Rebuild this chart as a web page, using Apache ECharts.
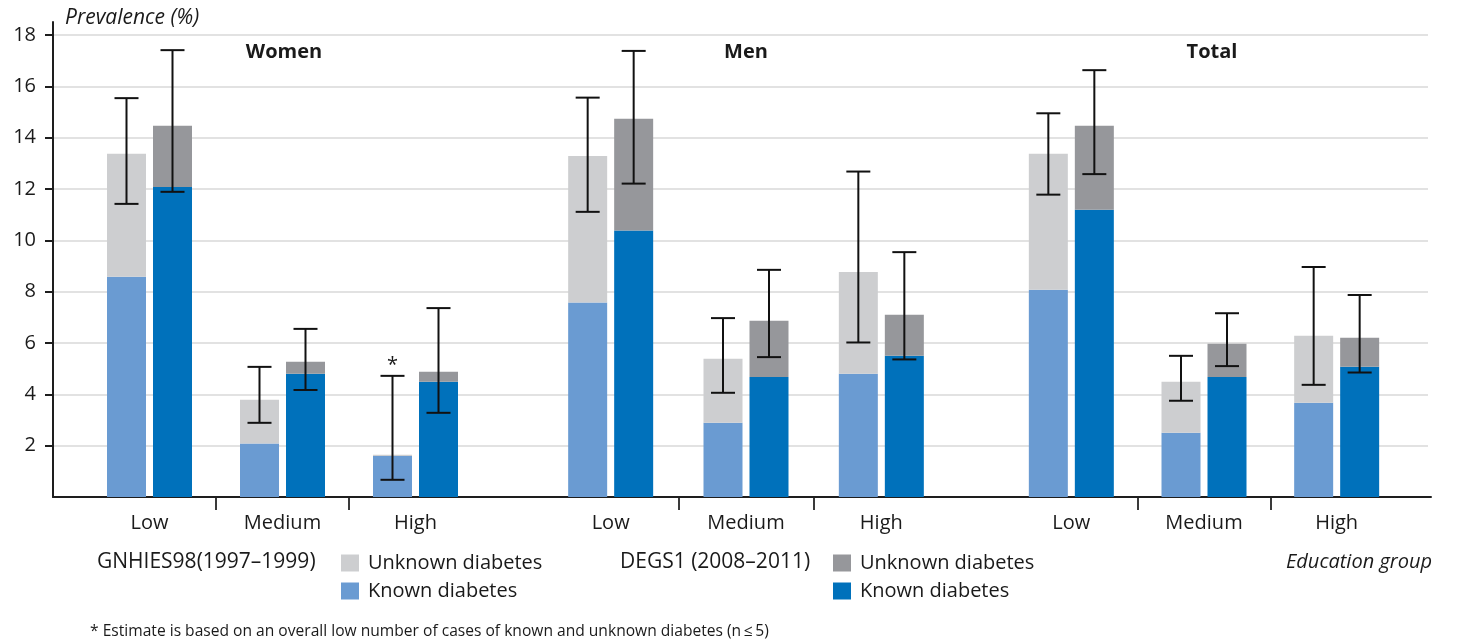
<!DOCTYPE html>
<html>
<head>
<meta charset="utf-8">
<script src="https://cdn.jsdelivr.net/npm/echarts@6/dist/echarts.min.js"></script>
<style>
  html, body { margin: 0; padding: 0; background: #fff; }
  #chart { width: 1457px; height: 644px; }
</style>
</head>
<body>
<div id="chart"></div>
<script>
// Prevalence of known and unknown diabetes by education group, two survey waves.
const groups = ['Women', 'Men', 'Total'];
const educationLevels = ['Low', 'Medium', 'High'];
const yTicks = [2, 4, 6, 8, 10, 12, 14, 16, 18];

// GNHIES98 (1997–1999): rows = Women, Men, Total; columns = Low, Medium, High
const gnhiesKnown   = [[8.58, 2.08, 1.60], [7.58, 2.89, 4.80], [8.07, 2.50, 3.67]];
const gnhiesUnknown = [[4.79, 1.71, 0.05], [5.71, 2.50, 3.97], [5.30, 1.99, 2.61]];
const gnhiesLower   = [[11.42, 2.89, 0.67], [11.11, 4.06, 6.02], [11.78, 3.75, 4.37]];
const gnhiesUpper   = [[15.54, 5.07, 4.72], [15.56, 6.97, 12.68], [14.95, 5.50, 8.96]];
// estimates flagged with an asterisk (low case numbers)
const gnhiesFlag    = [[0, 0, 1], [0, 0, 0], [0, 0, 0]];

// DEGS1 (2008–2011)
const degsKnown   = [[12.08, 4.80, 4.49], [10.38, 4.68, 5.50], [11.19, 4.68, 5.07]];
const degsUnknown = [[2.38, 0.47, 0.39], [4.36, 2.19, 1.60], [3.27, 1.29, 1.13]];
const degsLower   = [[11.89, 4.17, 3.28], [12.21, 5.45, 5.36], [12.58, 5.10, 4.85]];
const degsUpper   = [[17.41, 6.55, 7.36], [17.38, 8.85, 9.54], [16.63, 7.16, 7.87]];

const C = {
  gnhiesUnknown: '#cdced0',
  gnhiesKnown: '#6a9bd2',
  degsUnknown: '#96979b',
  degsKnown: '#0071bb',
  text: '#1a1a1a',
  grid: '#d9d9d9',
  axis: '#1e1e1e'
};
const FONT = '"Open Sans", "Noto Sans", sans-serif';

// pixel layout of the three panels (plot band for each group)
const panels = [
  { left: 83, width: 399, titleX: 284 },
  { left: 543, width: 406, titleX: 746 },
  { left: 1005, width: 398, titleX: 1212 }
];
const PLOT_TOP = 35, PLOT_BOTTOM = 147;
const BAR_W = 39, BAR_GAP = 7, HALF_CAP = 12;

const grid = [
  { left: 53, right: 26, top: 22, bottom: PLOT_BOTTOM },            // axis lines
  { left: 53, right: 29, top: PLOT_TOP, bottom: 198.4 }              // y ticks, labels, grid lines (2..18)
];
const xAxis = [
  { gridIndex: 0, type: 'value', min: 0, max: 1,
    axisLine: { show: true, lineStyle: { color: C.axis, width: 2 } },
    axisTick: { show: false }, axisLabel: { show: false }, splitLine: { show: false } },
  { gridIndex: 1, type: 'value', min: 0, max: 1, show: false }
];
const yAxis = [
  { gridIndex: 0, type: 'value', min: 0, max: 18.5,
    axisLine: { show: true, lineStyle: { color: C.axis, width: 2 } },
    axisTick: { show: false }, axisLabel: { show: false }, splitLine: { show: false } },
  { gridIndex: 1, type: 'value', min: 2, max: 18, interval: 2,
    axisLine: { show: false },
    axisTick: { show: true, length: 8, lineStyle: { color: C.axis, width: 2 } },
    axisLabel: { show: true, margin: 17, fontSize: 20, color: C.text, fontFamily: FONT,
      formatter: v => (yTicks.indexOf(v) >= 0 ? String(v) : '') },
    splitLine: { show: true, lineStyle: { color: C.grid, width: 1.5 } } }
];
const series = [];

panels.forEach((p, g) => {
  const barGrid = grid.length;
  grid.push({ left: p.left, width: p.width, top: PLOT_TOP, bottom: PLOT_BOTTOM });
  xAxis.push({ gridIndex: barGrid, type: 'category', data: educationLevels, show: false });
  yAxis.push({ gridIndex: barGrid, type: 'value', min: 0, max: 18, show: false });
  const axisIdx = xAxis.length - 1;

  const sepGrid = grid.length;
  grid.push({ left: p.left, width: p.width, top: 497, height: 13 });
  xAxis.push({ gridIndex: sepGrid, type: 'category', data: educationLevels, position: 'bottom',
    axisLine: { show: false }, axisTick: { show: false },
    axisLabel: { show: true, margin: 3, fontSize: 20, color: C.text, fontFamily: FONT },
    splitLine: { show: true, showMinLine: false, showMaxLine: false,
      lineStyle: { color: '#3a3a3a', width: 2 } } });
  yAxis.push({ gridIndex: sepGrid, type: 'value', min: 0, max: 1, show: false });

  const barBase = {
    type: 'bar', xAxisIndex: axisIdx, yAxisIndex: axisIdx,
    barWidth: BAR_W, barGap: (BAR_GAP / BAR_W * 100) + '%',
    silent: true, z: 2
  };
  series.push(Object.assign({}, barBase, { name: 'GNHIES98 known', stack: 'gnhies' + g,
    itemStyle: { color: C.gnhiesKnown }, data: gnhiesKnown[g] }));
  series.push(Object.assign({}, barBase, { name: 'GNHIES98 unknown', stack: 'gnhies' + g,
    itemStyle: { color: C.gnhiesUnknown }, data: gnhiesUnknown[g] }));
  series.push(Object.assign({}, barBase, { name: 'DEGS1 known', stack: 'degs' + g,
    itemStyle: { color: C.degsKnown }, data: degsKnown[g] }));
  series.push(Object.assign({}, barBase, { name: 'DEGS1 unknown', stack: 'degs' + g,
    itemStyle: { color: C.degsUnknown }, data: degsUnknown[g] }));

  // confidence intervals of the total prevalence
  const ciData = [];
  educationLevels.forEach((lvl, i) => {
    ciData.push([i, gnhiesLower[g][i], gnhiesUpper[g][i], 0, gnhiesFlag[g][i]]);
    ciData.push([i, degsLower[g][i], degsUpper[g][i], 1, 0]);
  });
  series.push({
    type: 'custom', xAxisIndex: axisIdx, yAxisIndex: axisIdx, z: 5, silent: true,
    encode: { x: 0, y: [1, 2] },
    data: ciData,
    renderItem: (params, api) => {
      const i = api.value(0);
      const lo = api.coord([i, api.value(1)]);
      const hi = api.coord([i, api.value(2)]);
      const off = (BAR_W + BAR_GAP) / 2;
      const x = lo[0] + (api.value(3) === 0 ? -off : off);
      const st = { stroke: '#111', lineWidth: 2, fill: null };
      const children = [
        { type: 'line', shape: { x1: x, y1: lo[1], x2: x, y2: hi[1] }, style: st },
        { type: 'line', shape: { x1: x - HALF_CAP, y1: hi[1], x2: x + HALF_CAP, y2: hi[1] }, style: st },
        { type: 'line', shape: { x1: x - HALF_CAP, y1: lo[1], x2: x + HALF_CAP, y2: lo[1] }, style: st }
      ];
      if (api.value(4)) {
        children.push({ type: 'text', x: x, y: hi[1] - 11,
          style: { text: '*', fill: C.text, font: '20px ' + FONT,
            align: 'center', verticalAlign: 'middle', textAlign: 'center', textVerticalAlign: 'middle' } });
      }
      return { type: 'group', children };
    }
  });
});

function txt(text, x, y, opts) {
  return {
    type: 'text', x: x, y: y, silent: true,
    style: Object.assign({
      text: text, fill: C.text, font: '20px ' + FONT,
      align: 'left', verticalAlign: 'middle', textAlign: 'left', textVerticalAlign: 'middle'
    }, opts || {})
  };
}

const graphic = [
  txt('Prevalence (%)', 65, 18, { font: 'italic 21px ' + FONT }),
  txt('GNHIES98(1997\u20131999)', 97, 562, { font: '21px ' + FONT }),
  txt('DEGS1 (2008\u20132011)', 620, 562, { font: '21px ' + FONT }),
  txt('Education group', 1432, 562, { font: 'italic 20px ' + FONT, align: 'right', textAlign: 'right' }),
  txt('* Estimate is based on an overall low number of cases of known and unknown diabetes (n\u2009\u2264\u20095)', 90, 632,
    { font: '15.6px ' + FONT })
];
panels.forEach((p, g) => {
  graphic.push(txt(groups[g], p.titleX, 52, { font: 'bold 20px ' + FONT, align: 'center', textAlign: 'center' }));
});

const legendBase = {
  orient: 'vertical', top: 548, itemWidth: 18, itemHeight: 17, itemGap: 8,
  icon: 'rect', selectedMode: false,
  textStyle: { fontSize: 20, lineHeight: 20, color: C.text, fontFamily: FONT, padding: [0, 0, 0, 4] },
  formatter: name => (name.indexOf('unknown') >= 0 ? 'Unknown diabetes' : 'Known diabetes')
};
const legend = [
  Object.assign({}, legendBase, { left: 336, data: ['GNHIES98 unknown', 'GNHIES98 known'] }),
  Object.assign({}, legendBase, { left: 828, data: ['DEGS1 unknown', 'DEGS1 known'] })
];

const chart = echarts.init(document.getElementById('chart'), null, { renderer: 'canvas' });
chart.setOption({
  animation: false,
  backgroundColor: '#ffffff',
  textStyle: { fontFamily: FONT },
  grid, xAxis, yAxis, series, legend, graphic
});
</script>
</body>
</html>
